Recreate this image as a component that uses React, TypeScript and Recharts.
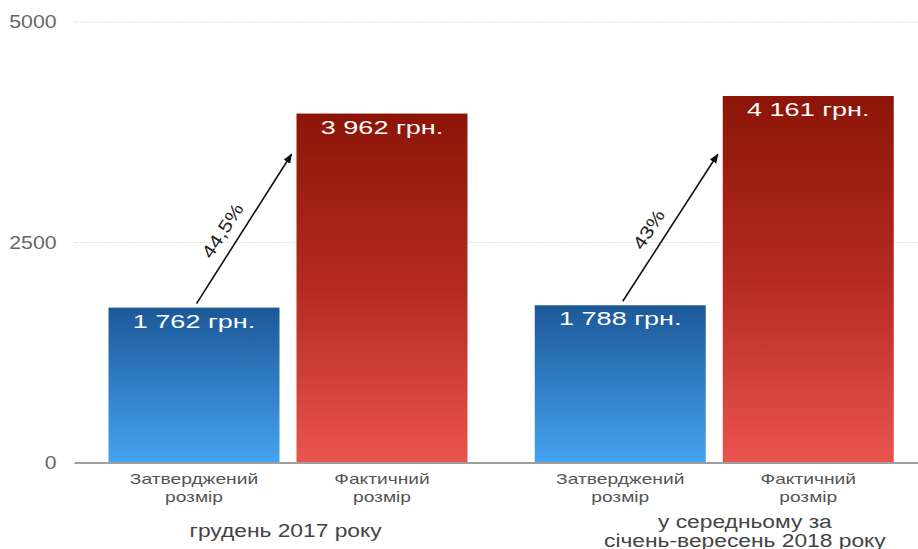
import React from "react";
import { BarChart, Bar, XAxis, YAxis, CartesianGrid } from "recharts";

// ---- data ----
const groups = ["грудень 2017 року", "у середньому за січень-вересень 2018 року"];
const groupLabelLines = [["грудень 2017 року"], ["у середньому за", "січень-вересень 2018 року"]];
const approved = [1762, 1788];
const actual = [3962, 4161];
const growthLabels = ["44,5%", "43%"];
const approvedLabel = ["Затверджений", "розмір"];
const actualLabel = ["Фактичний", "розмір"];
const yTicks = [0, 2500, 5000];
const arrowTipValue = 3500;

const data = groups.map((g, i) => ({ group: g, approved: approved[i], actual: actual[i] }));

// ---- layout / style constants ----
const W = 918;
const H = 549;
const BAR_SIZE = 171;
const BAR_GAP = 17;
const FONT = "'Liberation Sans', Arial, Helvetica, sans-serif";
const groupShift = [-2, 31];

const fmt = (v: number) => String(v).replace(/\B(?=(\d{3})+(?!\d))/g, " ") + " грн.";

const StretchText = ({ x, y, sx, size, fill, anchor = "middle", children, rotate = 0 }: any) => (
  <text
    transform={`translate(${x},${y}) rotate(${rotate}) scale(${sx},1)`}
    textAnchor={anchor}
    fontSize={size}
    fill={fill}
    fontFamily={FONT}
  >
    {children}
  </text>
);

const makeShape = (key: "approved" | "actual", gradId: string, lines: string[]) => (props: any) => {
  const { x, y, width, height, payload, index } = props;
  const value = payload[key];
  const baseline = y + height;
  const cx = x + width / 2;
  const els: any[] = [
    <rect key="r" x={x} y={y} width={width} height={height} fill={`url(#${gradId})`} />,
    <StretchText key="v" x={cx} y={y + 20} sx={1.5} size={18} fill="#ffffff">
      {fmt(value)}
    </StretchText>,
    ...lines.map((t, li) => (
      <StretchText key={"s" + li} x={cx} y={baseline + 21 + li * 18} sx={1.28} size={15} fill="#555">
        {t}
      </StretchText>
    )),
  ];
  if (key === "approved") {
    const ppu = height / value;
    const x1 = cx + 2.5;
    const y1 = y - 4;
    const x2 = x + width + BAR_GAP - 5;
    const y2 = baseline - arrowTipValue * ppu;
    const dx = x2 - x1;
    const dy = y2 - y1;
    const len = Math.sqrt(dx * dx + dy * dy);
    const ux = dx / len;
    const uy = dy / len;
    const px = uy; // perpendicular (left/up side)
    const py = -ux;
    const mx = (x1 + x2) / 2 + px * 17 - ux * 13;
    const my = (y1 + y2) / 2 + py * 17 - uy * 13;
    const ang = (Math.atan2(dy, dx) * 180) / Math.PI;
    els.push(
      <line key="a" x1={x1} y1={y1} x2={x2} y2={y2} stroke="#111" strokeWidth={1.6} markerEnd="url(#arrowHead)" />,
      <g key="p" transform={`translate(${mx},${my}) rotate(${ang})`}>
        <text transform="scale(1.2,1)" y={6} textAnchor="middle" fontSize={18} fill="#222" fontFamily={FONT}>
          {growthLabels[index]}
        </text>
      </g>
    );
  }
  return <g>{els}</g>;
};

const GroupTick = (props: any) => {
  const { x, y, index } = props;
  const lines = groupLabelLines[index] || [];
  const lh = 19;
  const centerY = y + 68;
  const start = centerY - ((lines.length - 1) * lh) / 2;
  return (
    <g>
      {lines.map((t: string, i: number) => (
        <StretchText key={i} x={x + groupShift[index]} y={start + i * lh + 6} sx={1.2} size={19} fill="#444">
          {t}
        </StretchText>
      ))}
    </g>
  );
};

const YTick = (props: any) => {
  const { x, y, payload } = props;
  return (
    <StretchText x={x} y={y + 6} sx={1.18} size={18} fill="#666" anchor="end">
      {payload.value}
    </StretchText>
  );
};

export default function App() {
  return (
    <div style={{ position: "absolute", left: 0, top: 0, width: W, height: H, background: "#fff" }}>
      <BarChart
        width={W}
        height={H}
        data={data}
        margin={{ top: 22, right: -9, left: 0, bottom: 0 }}
        barSize={BAR_SIZE}
        barGap={BAR_GAP}
      >
        <defs>
          <linearGradient id="gradBlue" x1="0" y1="0" x2="0" y2="1">
            <stop offset="0%" stopColor="#1c5898" />
            <stop offset="100%" stopColor="#46a3f0" />
          </linearGradient>
          <linearGradient id="gradRed" x1="0" y1="0" x2="0" y2="1">
            <stop offset="0%" stopColor="#8c1508" />
            <stop offset="50%" stopColor="#b42a22" />
            <stop offset="100%" stopColor="#ea544f" />
          </linearGradient>
          <marker id="arrowHead" viewBox="0 0 10 10" refX="9" refY="5" markerWidth="6" markerHeight="6" orient="auto">
            <path d="M0,1 L10,5 L0,9 z" fill="#111" />
          </marker>
        </defs>
        <CartesianGrid vertical={false} stroke="#c4c4c4" strokeDasharray="1 2" />
        <YAxis
          width={74.5}
          domain={[0, 5000]}
          ticks={yTicks}
          axisLine={false}
          tickLine={false}
          tickSize={0}
          tickMargin={18}
          tick={<YTick />}
          interval={0}
        />
        <XAxis
          dataKey="group"
          height={86}
          axisLine={{ stroke: "#9e9e9e", strokeWidth: 2 }}
          tickLine={false}
          tickSize={0}
          tickMargin={0}
          interval={0}
          tick={<GroupTick />}
        />
        <Bar dataKey="approved" isAnimationActive={false} shape={makeShape("approved", "gradBlue", approvedLabel)} />
        <Bar dataKey="actual" isAnimationActive={false} shape={makeShape("actual", "gradRed", actualLabel)} />
      </BarChart>
    </div>
  );
}
